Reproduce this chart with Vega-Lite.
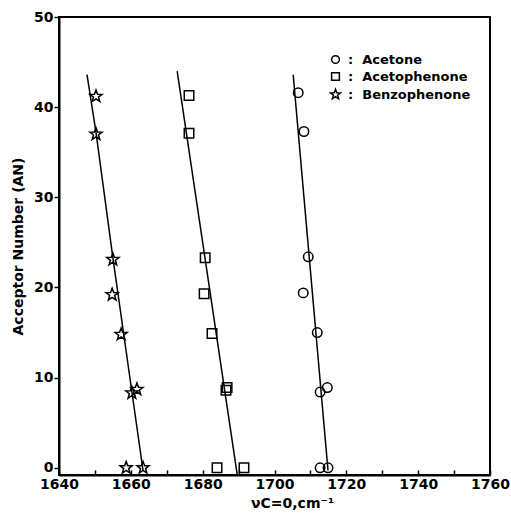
{
  "$schema": "https://vega.github.io/schema/vega-lite/v6.json",
  "width": 431,
  "height": 458,
  "autosize": {"type": "none"},
  "padding": {"left": 59, "top": 17, "right": 21, "bottom": 44},
  "background": "white",
  "config": {
    "view": {"stroke": "black", "strokeWidth": 2},
    "font": "DejaVu Sans",
    "axis": {
      "domainColor": "black", "domainWidth": 2, "tickColor": "black", "tickWidth": 1.5,
      "labelColor": "black", "titleColor": "black", "grid": false,
      "labelFont": "DejaVu Sans", "labelFontSize": 14, "labelFontWeight": "bold",
      "titleFont": "DejaVu Sans", "titleFontSize": 14, "titleFontWeight": "bold"
    }
  },
  "datasets": {
    "lines": [
      {"series": "Benzophenone", "k": 1, "x": 1647.8, "y": 43.6},
      {"series": "Benzophenone", "k": 2, "x": 1650.3, "y": 37.2},
      {"series": "Benzophenone", "k": 3, "x": 1655.0, "y": 23.3},
      {"series": "Benzophenone", "k": 4, "x": 1663.4, "y": -0.3},
      {"series": "Acetophenone", "k": 1, "x": 1672.9, "y": 44.0},
      {"series": "Acetophenone", "k": 2, "x": 1689.6, "y": -0.7},
      {"series": "Acetone", "k": 1, "x": 1705.2, "y": 43.6},
      {"series": "Acetone", "k": 2, "x": 1714.9, "y": -0.3}
    ],
    "points": [
      {"compound": "Benzophenone", "x": 1650.3, "y": 41.2},
      {"compound": "Benzophenone", "x": 1650.3, "y": 37.0},
      {"compound": "Benzophenone", "x": 1655.0, "y": 23.1},
      {"compound": "Benzophenone", "x": 1654.8, "y": 19.2},
      {"compound": "Benzophenone", "x": 1657.3, "y": 14.8},
      {"compound": "Benzophenone", "x": 1660.3, "y": 8.3},
      {"compound": "Benzophenone", "x": 1661.7, "y": 8.7},
      {"compound": "Benzophenone", "x": 1658.7, "y": 0.0},
      {"compound": "Benzophenone", "x": 1663.4, "y": 0.0},
      {"compound": "Acetophenone", "x": 1676.2, "y": 41.3},
      {"compound": "Acetophenone", "x": 1676.2, "y": 37.1},
      {"compound": "Acetophenone", "x": 1680.7, "y": 23.3},
      {"compound": "Acetophenone", "x": 1680.4, "y": 19.3},
      {"compound": "Acetophenone", "x": 1682.6, "y": 14.9},
      {"compound": "Acetophenone", "x": 1686.5, "y": 8.6},
      {"compound": "Acetophenone", "x": 1686.8, "y": 8.9},
      {"compound": "Acetophenone", "x": 1684.0, "y": 0.0},
      {"compound": "Acetophenone", "x": 1691.5, "y": 0.0},
      {"compound": "Acetone", "x": 1706.6, "y": 41.6},
      {"compound": "Acetone", "x": 1708.2, "y": 37.3},
      {"compound": "Acetone", "x": 1709.4, "y": 23.4},
      {"compound": "Acetone", "x": 1708.0, "y": 19.4},
      {"compound": "Acetone", "x": 1711.9, "y": 15.0},
      {"compound": "Acetone", "x": 1712.7, "y": 8.4},
      {"compound": "Acetone", "x": 1714.7, "y": 8.9},
      {"compound": "Acetone", "x": 1712.7, "y": 0.0},
      {"compound": "Acetone", "x": 1714.9, "y": 0.0}
    ]
  },
  "encoding": {
    "x": {
      "field": "x", "type": "quantitative",
      "scale": {"domain": [1640, 1760], "nice": false, "zero": false},
      "axis": {
        "values": [1640, 1650, 1660, 1670, 1680, 1690, 1700, 1710, 1720, 1730, 1740, 1750, 1760],
        "labelExpr": "datum.value % 20 === 0 ? datum.label : ''",
        "format": "d", "tickSize": -5, "labelPadding": 7, "labelFlush": false,
        "title": "νC=0,cm⁻¹", "titleX": 233, "titleY": 32, "titleBaseline": "alphabetic"
      }
    },
    "y": {
      "field": "y", "type": "quantitative",
      "scale": {"domain": [-0.8, 50], "nice": false, "zero": false},
      "axis": {
        "values": [0, 10, 20, 30, 40, 50], "tickSize": 5, "labelPadding": 1,
        "title": "Acceptor Number (AN)", "titlePadding": 8
      }
    }
  },
  "layer": [
    {
      "data": {"name": "lines"},
      "mark": {"type": "line", "color": "black", "strokeWidth": 1.5},
      "encoding": {
        "detail": {"field": "series", "type": "nominal"},
        "order": {"field": "k", "type": "quantitative"}
      }
    },
    {
      "data": {"name": "points"},
      "mark": {"type": "point", "filled": false, "stroke": "black", "strokeWidth": 1.5, "size": 90, "opacity": 1},
      "encoding": {
        "shape": {
          "field": "compound", "type": "nominal",
          "scale": {
            "domain": ["Acetone", "Acetophenone", "Benzophenone"],
            "range": ["circle", "square", "M0,-1.35L0.33,-0.45L1.28,-0.42L0.53,0.17L0.8,1.1L0,0.56L-0.8,1.1L-0.53,0.17L-1.28,-0.42L-0.33,-0.45Z"]
          },
          "legend": {
            "orient": "none", "legendX": 270, "legendY": 36, "title": null,
            "padding": 0, "rowPadding": 2, "symbolSize": 60, "symbolStrokeColor": "black",
            "symbolStrokeWidth": 1.5, "symbolFillColor": "transparent",
            "labelFont": "DejaVu Sans", "labelFontSize": 13, "labelFontWeight": "bold", "labelColor": "black",
            "labelOffset": 6,
            "labelExpr": "':\u00a0\u00a0' + datum.label"
          }
        }
      }
    }
  ]
}
